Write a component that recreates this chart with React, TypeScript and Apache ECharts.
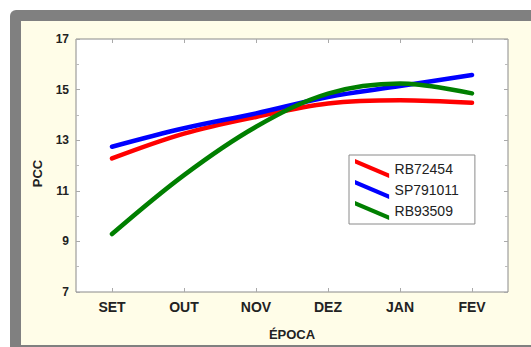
import React, { useEffect, useRef } from "react";
import * as echarts from "echarts";

const categories = ["SET", "OUT", "NOV", "DEZ", "JAN", "FEV"];
const rb72454 = [12.28, 13.26, 13.92, 14.45, 14.58, 14.48];
const sp791011 = [12.74, 13.47, 14.06, 14.71, 15.14, 15.58];
const rb93509 = [9.29, 11.62, 13.53, 14.84, 15.24, 14.85];
const seriesNames = ["RB72454", "SP791011", "RB93509"];
const seriesColors = ["#ff0000", "#0000ff", "#007f00"];
const yTicks = { min: 7, max: 17, interval: 2 };

const legendIcon = "path://M0,0 L35,15 L35,19.5 L0,4.5 Z";

export default function App() {
  const ref = useRef<HTMLDivElement>(null);
  useEffect(() => {
    if (!ref.current) return;
    const chart = echarts.init(ref.current, undefined, { renderer: "svg" });
    const data = [rb72454, sp791011, rb93509];
    const axisLabelFont = "Liberation Sans, Arial, sans-serif";
    chart.setOption({
      animation: false,
      backgroundColor: "#ffffff",
      graphic: [
        {
          type: "rect",
          shape: { x: 10, y: 10, width: 560, height: 360, r: 6 },
          style: { fill: "#808080" },
          z: -10,
          silent: true,
        },
        {
          type: "rect",
          shape: { x: 21, y: 21, width: 540, height: 324 },
          style: { fill: "#fffde8" },
          z: -9,
          silent: true,
        },
      ],
      grid: {
        left: 76,
        top: 39,
        right: 23,
        bottom: 55,
        show: true,
        backgroundColor: "#ffffff",
        borderColor: "#8a8a8a",
        borderWidth: 1,
      },
      legend: {
        left: 349,
        top: 155,
        orient: "vertical",
        backgroundColor: "#ffffff",
        borderColor: "#8a8a8a",
        borderWidth: 1,
        padding: [4, 16, 4, 6],
        itemWidth: 35,
        itemHeight: 19,
        itemGap: 2,
        icon: legendIcon,
        textStyle: { fontFamily: axisLabelFont, fontSize: 14, color: "#222" },
        data: seriesNames,
      },
      xAxis: [
        {
          type: "category",
          data: categories,
          boundaryGap: true,
          position: "bottom",
          name: "ÉPOCA",
          nameLocation: "middle",
          nameGap: 36,
          nameTextStyle: { fontFamily: axisLabelFont, fontSize: 13, fontWeight: "bold", color: "#222" },
          axisLine: { show: false },
          axisTick: { show: true, alignWithLabel: true, inside: true, length: 4, lineStyle: { color: "#aaa" } },
          axisLabel: { fontFamily: axisLabelFont, fontSize: 14, fontWeight: "bold", color: "#222", margin: 8 },
          splitLine: { show: false },
        },
        {
          type: "category",
          data: categories,
          boundaryGap: true,
          position: "top",
          axisLine: { show: false },
          axisTick: { show: true, alignWithLabel: true, inside: true, length: 4, lineStyle: { color: "#aaa" } },
          axisLabel: { show: false },
          splitLine: { show: false },
        },
      ],
      yAxis: [
        {
          type: "value",
          min: yTicks.min,
          max: yTicks.max,
          interval: yTicks.interval,
          position: "left",
          name: "PCC",
          nameLocation: "middle",
          nameGap: 32,
          nameTextStyle: { fontFamily: axisLabelFont, fontSize: 13, fontWeight: "bold", color: "#222", padding: [0, 0, 0, -16] },
          axisLine: { show: false },
          axisTick: { show: true, inside: true, length: 4, lineStyle: { color: "#aaa" } },
          minorTick: { show: true, splitNumber: 2, length: 3, lineStyle: { color: "#bbb" } },
          axisLabel: { fontFamily: axisLabelFont, fontSize: 12, fontWeight: "bold", color: "#222", margin: 7 },
          splitLine: { show: false },
        },
        {
          type: "value",
          min: yTicks.min,
          max: yTicks.max,
          interval: yTicks.interval,
          position: "right",
          axisLine: { show: false },
          axisTick: { show: true, inside: true, length: 4, lineStyle: { color: "#aaa" } },
          minorTick: { show: true, splitNumber: 2, length: 3, lineStyle: { color: "#bbb" } },
          axisLabel: { show: false },
          splitLine: { show: false },
        },
      ],
      series: seriesNames.map((name, i) => ({
        name,
        type: "line",
        data: data[i],
        smooth: 0.35,
        symbol: "none",
        color: seriesColors[i],
        lineStyle: { width: 4.5, color: seriesColors[i], cap: "round" },
      })),
    });
    return () => chart.dispose();
  }, []);
  return <div ref={ref} style={{ position: "fixed", left: 0, top: 0, width: 531, height: 347 }} />;
}
